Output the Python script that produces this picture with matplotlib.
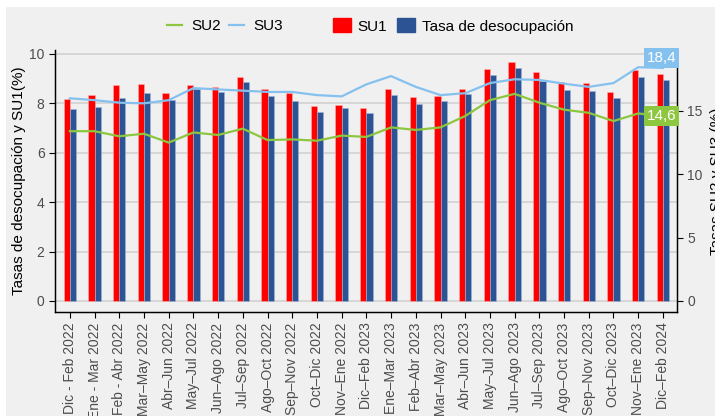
import numpy as np
import matplotlib
matplotlib.use("Agg")
import matplotlib.pyplot as plt
import matplotlib.patches as patches
from matplotlib.lines import Line2D

plt.rcParams['font.family'] = ['Liberation Sans', 'DejaVu Sans']

# periods (trimestres moviles)
periodos = [
    "Dic - Feb 2022", "Ene - Mar 2022", "Feb - Abr 2022", "Mar–May 2022",
    "Abr–Jun 2022", "May–Jul 2022", "Jun–Ago 2022", "Jul–Sep 2022",
    "Ago–Oct 2022", "Sep–Nov 2022", "Oct–Dic 2022", "Nov–Ene 2022",
    "Dic–Feb 2023", "Ene–Mar 2023", "Feb–Abr 2023", "Mar–May 2023",
    "Abr–Jun 2023", "May–Jul 2023", "Jun–Ago 2023", "Jul–Sep 2023",
    "Ago–Oct 2023", "Sep–Nov 2023", "Oct–Dic 2023", "Nov–Ene 2023",
    "Dic–Feb 2024",
]
su1 = [8.17, 8.34, 8.74, 8.78, 8.41, 8.74, 8.68, 9.07, 8.57, 8.41, 7.91, 7.95,
       7.83, 8.60, 8.26, 8.30, 8.58, 9.38, 9.69, 9.26, 8.88, 8.83, 8.45, 9.33, 9.17]
tasa = [7.77, 7.87, 8.22, 8.42, 8.14, 8.58, 8.47, 8.87, 8.29, 8.11, 7.66, 7.80,
        7.61, 8.34, 7.99, 8.10, 8.37, 9.15, 9.42, 8.92, 8.54, 8.48, 8.23, 9.06, 8.95]
su2 = [13.4, 13.4, 13.0, 13.2, 12.5, 13.3, 13.1, 13.6, 12.7, 12.75, 12.65, 13.05,
       12.95, 13.7, 13.5, 13.7, 14.6, 15.85, 16.35, 15.65, 15.1, 14.85, 14.2, 14.8, 14.6]
su3 = [16.0, 15.85, 15.65, 15.6, 15.85, 16.8, 16.7, 16.6, 16.5, 16.5, 16.25, 16.15,
       17.1, 17.75, 16.9, 16.25, 16.4, 17.2, 17.5, 17.45, 17.15, 16.9, 17.2, 18.45, 18.4]

RED = '#ff0000'
BLUE = '#2c5494'
GREEN = '#8dc63f'
LIGHTBLUE = '#85c1ef'
BG = '#f0f0f0'

fig = plt.figure(figsize=(7.15, 4.16), dpi=100, facecolor='white')
fig.patches.append(patches.Rectangle((6 / 715, 0), 1, 1 - 7 / 416, transform=fig.transFigure,
                                     facecolor=BG, edgecolor='none', zorder=-10))

ax = fig.add_axes([55 / 715, (416 - 312) / 416, (677 - 55) / 715, (312 - 50) / 416])
ax.set_facecolor(BG)
ax2 = ax.twinx()

x = np.arange(len(periodos))
w = 0.25
ax.bar(x - w / 2, su1, width=w, color=RED, edgecolor='#ffb0b0', linewidth=0.4, zorder=3)
ax.bar(x + w / 2, tasa, width=w, color=BLUE, edgecolor='#9fb3d6', linewidth=0.4, zorder=3)

ylo, yhi = -0.45, 10.16
k = 1.95
ax.set_ylim(ylo, yhi)
ax2.set_ylim(ylo * k, yhi * k)
ax.set_xlim(-0.6, len(periodos) - 0.43)

ax2.plot(x, su2, color=GREEN, lw=1.6, zorder=4)
ax2.plot(x, su3, color=LIGHTBLUE, lw=1.6, zorder=4)

ax.set_yticks([0, 2, 4, 6, 8, 10])
ax2.set_yticks([0, 5, 10, 15])
ax.grid(axis='y', color='#cfcfcf', lw=1.1, zorder=0)
ax.set_axisbelow(True)

ax.set_xticks(x)
ax.set_xticklabels(periodos, rotation=90, va='top', ha='center')
for a in (ax, ax2):
    a.tick_params(labelsize=10, labelcolor='#4d4d4d', length=4, width=0.8, color='black')
    a.spines['top'].set_visible(False)
    for s in ('left', 'right', 'bottom'):
        a.spines[s].set_color('black')
        a.spines[s].set_linewidth(0.9)

ax.set_ylabel('Tasas de desocupación y SU1(%)', fontsize=11, labelpad=2)
ax2.set_ylabel('Tasas SU2 y SU3 (%)', fontsize=11, rotation=90, labelpad=5)

# end-point labels
ax2.annotate(f"{su3[-1]:.1f}".replace('.', ','), (x[-1], su3[-1]), xytext=(-1, 7),
             textcoords='offset points', ha='center', va='center', color='white', fontsize=11,
             bbox=dict(boxstyle='square,pad=0.2', fc=LIGHTBLUE, ec='none'), zorder=6)
ax2.annotate(f"{su2[-1]:.1f}".replace('.', ','), (x[-1], su2[-1]), xytext=(-1, 0),
             textcoords='offset points', ha='center', va='center', color='white', fontsize=11,
             bbox=dict(boxstyle='square,pad=0.2', fc=GREEN, ec='none'), zorder=6)

# legends
line_h = [Line2D([], [], color=GREEN, lw=1.6), Line2D([], [], color=LIGHTBLUE, lw=1.6)]
leg1 = fig.legend(line_h, ['SU2', 'SU3'], loc='center', bbox_to_anchor=(225 / 715, 1 - 26 / 416),
                  ncol=2, frameon=False, fontsize=11, handlelength=1.0, handletextpad=0.6,
                  columnspacing=0.5, borderpad=0)
fill_h = [patches.Patch(color=RED), patches.Patch(color=BLUE)]
leg2 = fig.legend(fill_h, ['SU1', 'Tasa de desocupación'], loc='center',
                  bbox_to_anchor=(453 / 715, 1 - 26 / 416), ncol=2, frameon=False, fontsize=11,
                  handlelength=1.2, handleheight=1.0, handletextpad=0.45, columnspacing=0.6,
                  borderpad=0)

fig.savefig('out.png', dpi=100, facecolor=fig.get_facecolor())
